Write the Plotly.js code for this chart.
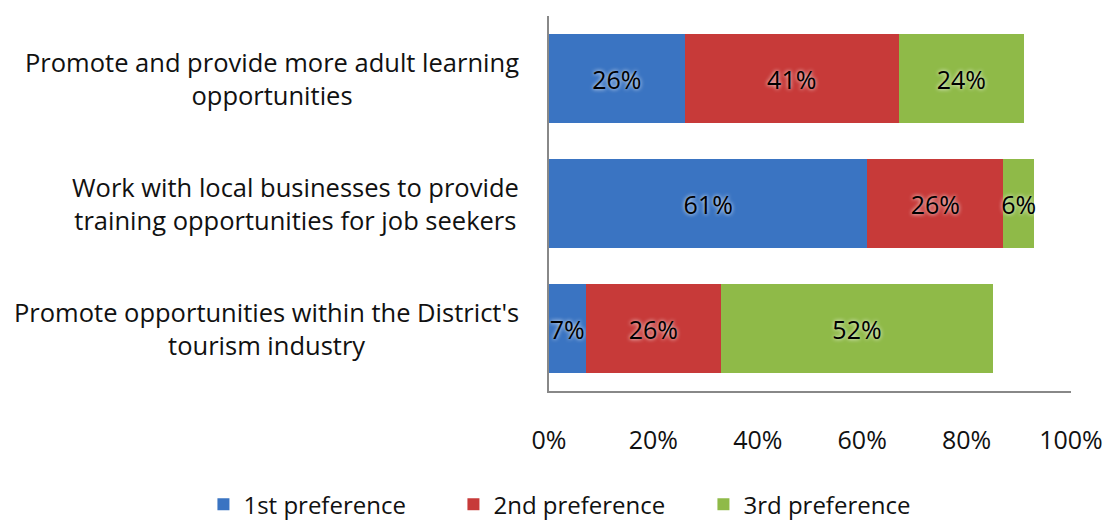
<!DOCTYPE html>
<html>
<head>
<meta charset="utf-8">
<script src="https://cdn.plot.ly/plotly-3.0.1.min.js"></script>
<style>
html,body{margin:0;padding:0;background:#fff;}
#chart{width:1107px;height:520px;}
</style>
</head>
<body>
<div id="chart"></div>
<script>
const categories = [
  "Promote opportunities within the District's<br>tourism industry",
  "Work with local businesses to provide<br>training opportunities for job seekers",
  "Promote and provide more adult learning<br>opportunities"
];
const seriesNames = ["1st preference", "2nd preference", "3rd preference"];
const first = [7, 61, 26];
const second = [26, 26, 41];
const third = [52, 6, 24];
const seriesValues = [first, second, third];
const seriesColors = ["#3a74c2", "#c73a39", "#8fba48"];
const xTickVals = [0, 20, 40, 60, 80, 100];

const FONT = "Open Sans, sans-serif";

const traces = seriesValues.map((vals, i) => ({
  type: 'bar',
  orientation: 'h',
  name: seriesNames[i],
  y: categories,
  x: vals,
  text: vals.map(v => v + '%'),
  textposition: 'inside',
  insidetextanchor: 'middle',
  textangle: 0,
  constraintext: 'none',
  textfont: {family: FONT, size: 25, color: '#000', shadow: '0px 0px 4px #fff'},
  marker: {color: seriesColors[i], line: {width: 0}},
  hoverinfo: 'skip'
}));

const annotations = categories.map(c => ({
  xref: 'paper', yref: 'y',
  x: -0.054, y: c,
  xanchor: 'right', yanchor: 'middle',
  align: 'center',
  text: c,
  showarrow: false,
  font: {family: FONT, size: 25.5, color: '#111'}
}));

const layout = {
  width: 1107, height: 520,
  margin: {l: 549, r: 36, t: 16, b: 129, autoexpand: false},
  barmode: 'stack',
  bargap: 0.29,
  paper_bgcolor: '#fff',
  plot_bgcolor: '#fff',
  showlegend: true,
  legend: {
    orientation: 'h',
    x: -0.662, xanchor: 'left',
    y: -0.243, yanchor: 'top',
    font: {family: FONT, size: 24, color: '#111'},
    traceorder: 'normal',
    itemwidth: 30,
    entrywidth: 205
  },
  xaxis: {
    range: [0, 100],
    tickvals: xTickVals,
    ticktext: xTickVals.map(v => v + '%'),
    showgrid: false,
    zeroline: false,
    showline: true,
    linecolor: '#888',
    linewidth: 2,
    ticks: '',
    ticklabelstandoff: 26,
    tickfont: {family: FONT, size: 25, color: '#111'},
    fixedrange: true
  },
  yaxis: {
    showticklabels: false,
    showgrid: false,
    zeroline: false,
    showline: true,
    linecolor: '#888',
    linewidth: 2,
    ticks: '',
    fixedrange: true
  },
  annotations: annotations
};

Plotly.newPlot('chart', traces, layout, {displayModeBar: false, staticPlot: true});
</script>
</body>
</html>
